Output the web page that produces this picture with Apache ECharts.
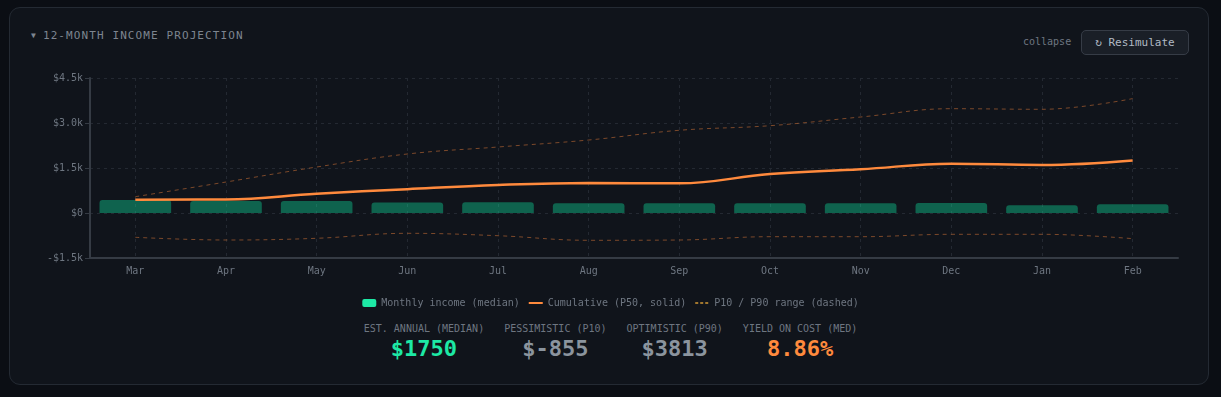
<!DOCTYPE html>
<html>
<head>
<meta charset="utf-8">
<script src="https://cdn.jsdelivr.net/npm/echarts@6/dist/echarts.min.js"></script>
<style>
  html, body { margin: 0; padding: 0; background: #0b0e14; width: 1221px; height: 397px; overflow: hidden; }
  body { font-family: "DejaVu Sans Mono", monospace; position: relative; }
  .card {
    position: absolute; left: 9px; top: 7px; width: 1198px; height: 376px;
    background: #10141b; border: 1px solid #242a33; border-radius: 11px;
  }
  .title {
    position: absolute; left: 21px; top: 21px; font-size: 11px; letter-spacing: 1.1px;
    color: #7d8590;
  }
  .title .caret { font-size: 8px; margin-right: 6px; position: relative; top: -1px; }
  .collapse { position: absolute; left: 1013px; top: 28px; font-size: 10px; color: #6e7681; }
  .btn {
    position: absolute; left: 1071px; top: 22px; width: 106px; height: 23px;
    background: #1a1f27; border: 1px solid #363c46; border-radius: 5px;
    color: #b1bac4; font-size: 11px; line-height: 23px; text-align: center;
  }
  #chart { position: absolute; left: 0; top: 0; width: 1221px; height: 320px; }
  .stats {
    position: absolute; left: 0; top: 322px; width: 1221px;
    display: flex; justify-content: center; gap: 20px;
  }
  .stat { text-align: center; }
  .stat .lbl { font-size: 10px; color: #6e7681; height: 13px; line-height: 13px; }
  .stat .val { font-size: 22px; font-weight: bold; line-height: 28px; }
</style>
</head>
<body>
<div class="card">
  <div class="title"><span class="caret">▼</span>12-MONTH INCOME PROJECTION</div>
  <div class="collapse">collapse</div>
  <div class="btn">↻ Resimulate</div>
</div>
<div id="chart"></div>
<div class="stats">
  <div class="stat"><div class="lbl">EST. ANNUAL (MEDIAN)</div><div class="val" style="color:#1de9a5">$1750</div></div>
  <div class="stat"><div class="lbl">PESSIMISTIC (P10)</div><div class="val" style="color:#8b949e">$-855</div></div>
  <div class="stat"><div class="lbl">OPTIMISTIC (P90)</div><div class="val" style="color:#8b949e">$3813</div></div>
  <div class="stat"><div class="lbl">YIELD ON COST (MED)</div><div class="val" style="color:#ff8a3d">8.86%</div></div>
</div>
<script>
  // month labels on the x axis
  const months = ['Mar', 'Apr', 'May', 'Jun', 'Jul', 'Aug', 'Sep', 'Oct', 'Nov', 'Dec', 'Jan', 'Feb'];
  // median monthly income
  const monthlyIncome = [433, 400, 400, 350, 355, 322, 322, 322, 322, 333, 256, 289];
  // cumulative P50
  const cumulativeP50 = [443, 450, 640, 795, 933, 1000, 990, 1300, 1457, 1643, 1600, 1750];
  // cumulative P10 / P90
  const cumulativeP10 = [-810, -900, -843, -677, -757, -910, -900, -790, -790, -710, -710, -855];
  const cumulativeP90 = [543, 1033, 1533, 1967, 2200, 2433, 2757, 2910, 3200, 3477, 3457, 3813];
  const yTicks = { min: -1500, max: 4500, interval: 1500 };

  const mono = 'DejaVu Sans Mono';
  const rangeName = 'P10 / P90 range (dashed)';
  const noSymbol = { color: 'transparent', opacity: 0, borderWidth: 0 };

  function fmtK(v) {
    if (v === 0) return '$0';
    const s = '$' + (Math.abs(v) / 1000).toFixed(1) + 'k';
    return v < 0 ? '-' + s : s;
  }

  let myChart = echarts.init(document.getElementById('chart'));
  let option = {
    animation: false,
    textStyle: { fontFamily: mono },
    legend: {
      top: 293,
      left: 'center',
      itemWidth: 14,
      itemHeight: 8,
      itemGap: 8,
      textStyle: { color: '#6e7681', fontSize: 10, fontFamily: mono },
      data: [
        { name: 'Monthly income (median)', icon: 'roundRect', itemStyle: { color: '#1de9a5', opacity: 1 } },
        { name: 'Cumulative (P50, solid)', itemStyle: noSymbol, lineStyle: { color: '#ff8a3d', width: 2, opacity: 1 } },
        { name: rangeName, itemStyle: noSymbol, lineStyle: { color: '#a0762e', type: [3, 2], width: 2, opacity: 1 } }
      ]
    },
    grid: { left: 90, right: 43, top: 78, bottom: 62 },
    xAxis: {
      type: 'category',
      data: months,
      boundaryGap: true,
      axisLine: { onZero: false, lineStyle: { color: '#353b44', width: 2 } },
      axisTick: { alignWithLabel: true, length: 5, lineStyle: { color: '#353b44' } },
      axisLabel: { color: '#6e7681', fontSize: 10, fontFamily: mono, margin: 8 },
      splitLine: { show: true, alignWithLabel: true, lineStyle: { color: '#242932', type: [3, 4] } }
    },
    yAxis: {
      type: 'value',
      min: yTicks.min,
      max: yTicks.max,
      interval: yTicks.interval,
      axisLine: { show: true, lineStyle: { color: '#353b44', width: 2 } },
      axisTick: { show: true, length: 5, lineStyle: { color: '#353b44' } },
      axisLabel: { color: '#6e7681', fontSize: 10, fontFamily: mono, margin: 7, formatter: fmtK },
      splitLine: { show: true, lineStyle: { color: '#242932', type: [3, 4] } }
    },
    series: [
      {
        name: 'Monthly income (median)',
        type: 'bar',
        data: monthlyIncome,
        barCategoryGap: '21%',
        itemStyle: { color: 'rgba(16, 217, 154, 0.4)', borderRadius: [3, 3, 0, 0] },
        z: 2
      },
      {
        name: 'Cumulative (P50, solid)',
        type: 'line',
        data: cumulativeP50,
        smooth: 0.4,
        showSymbol: false,
        symbol: 'none',
        color: '#ff8a3d',
        lineStyle: { color: '#ff8a3d', width: 2.5 },
        z: 4
      },
      {
        name: rangeName,
        type: 'line',
        data: cumulativeP90,
        smooth: 0.4,
        showSymbol: false,
        symbol: 'none',
        color: '#a0762e',
        lineStyle: { color: 'rgba(255, 138, 61, 0.45)', width: 1, type: [4, 4] },
        z: 3
      },
      {
        name: rangeName,
        type: 'line',
        data: cumulativeP10,
        smooth: 0.4,
        showSymbol: false,
        symbol: 'none',
        color: '#a0762e',
        lineStyle: { color: 'rgba(255, 138, 61, 0.45)', width: 1, type: [4, 4] },
        z: 3
      }
    ]
  };
  myChart.setOption(option);
</script>
</body>
</html>
